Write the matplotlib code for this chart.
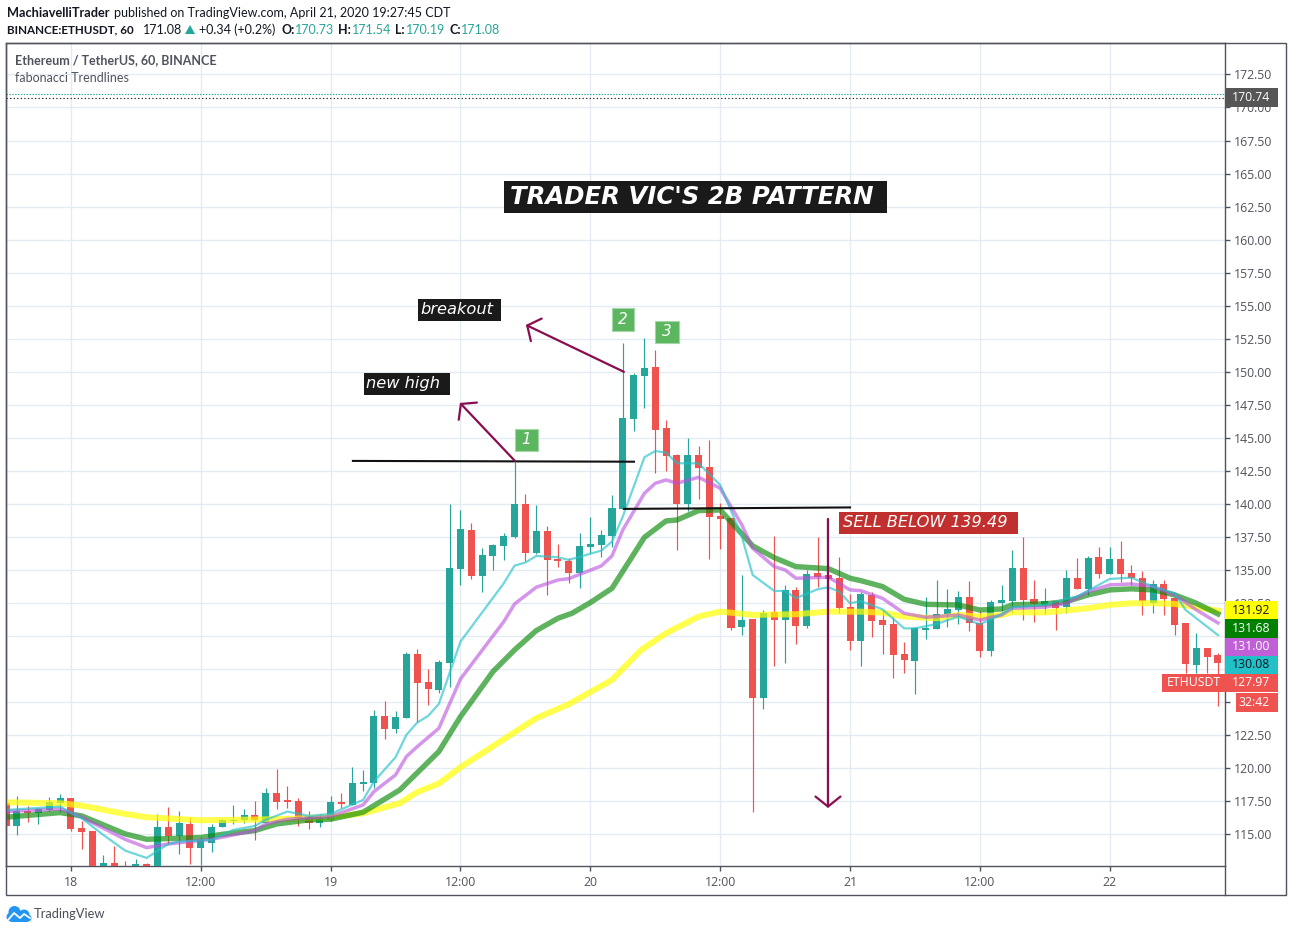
import matplotlib
matplotlib.use("Agg")
import matplotlib.pyplot as plt
from matplotlib.patches import Rectangle, Polygon, Circle

hours = list(range(-6, 107))
opens = [117.36,115.64,116.78,116.63,116.85,117.38,117.76,115.49,115.26,112.30,112.84,112.50,112.30,112.77,112.40,115.57,114.89,115.79,113.98,114.36,115.57,116.02,116.10,116.47,115.84,118.14,117.61,117.53,116.32,115.87,116.10,117.46,117.23,118.82,118.90,123.96,122.98,123.81,128.65,126.54,125.93,127.97,135.09,138.04,134.56,136.07,136.83,137.51,140.00,136.30,137.96,135.84,135.69,134.78,136.75,136.90,137.58,139.63,146.44,149.69,150.37,145.76,143.71,140.00,143.71,142.80,139.10,138.95,130.70,131.30,125.32,131.83,131.22,133.49,130.77,134.78,134.63,134.40,132.21,129.64,133.11,131.23,130.92,128.65,128.12,130.47,130.54,131.68,131.98,132.96,130.97,128.88,132.51,132.66,135.16,132.82,132.37,132.67,132.21,134.41,133.58,136.00,134.71,135.85,134.79,134.41,132.52,133.95,132.90,131.00,127.83,129.11,128.58]
highs = [117.50,117.91,117.16,117.03,117.86,118.06,117.76,116.02,115.26,113.45,114.13,112.99,113.15,112.84,116.55,117.08,116.78,116.32,114.81,115.79,116.15,117.23,116.93,117.53,118.52,119.96,118.67,117.76,116.78,116.55,117.91,118.14,120.11,119.88,124.42,125.10,124.34,128.81,129.03,127.52,128.20,140.00,139.55,138.57,136.68,136.98,137.81,143.20,140.76,139.93,138.34,136.98,135.92,137.81,139.02,138.04,140.69,152.19,149.92,152.54,151.66,146.36,143.79,145.00,144.39,144.85,140.08,138.95,134.63,131.30,131.98,137.58,133.87,133.72,135.01,137.50,134.90,135.99,133.19,133.34,133.34,131.98,131.45,129.56,130.69,132.96,134.25,133.57,133.42,134.17,131.90,132.74,133.87,136.52,137.51,134.26,133.65,132.67,135.01,135.92,136.07,136.75,136.75,137.21,135.39,134.94,134.26,134.26,132.90,131.00,130.25,129.11,128.73]
lows = [115.60,114.96,115.97,115.79,116.78,116.73,115.29,113.90,112.00,112.20,112.00,111.90,112.10,112.10,112.10,114.28,113.52,112.77,112.69,113.68,115.57,115.79,115.87,114.58,115.84,116.93,117.00,115.64,115.42,115.57,116.00,117.00,117.20,118.29,118.52,122.22,122.68,123.81,123.51,124.80,125.70,126.16,133.88,134.33,133.35,135.01,135.77,137.43,135.69,136.22,133.12,135.24,134.03,133.65,136.30,135.99,136.75,139.63,145.53,147.27,142.35,142.50,136.52,139.47,140.38,135.84,136.60,130.47,130.09,116.70,124.49,127.74,127.97,129.41,130.62,133.72,131.48,131.75,128.95,127.74,129.94,128.65,126.84,127.21,125.62,129.79,130.54,130.69,130.92,130.39,128.42,128.50,131.90,131.75,131.23,131.08,131.68,130.47,131.76,133.58,133.12,134.41,134.71,134.11,133.88,131.61,131.76,131.61,130.10,127.20,127.20,127.20,124.72]
closes = [115.64,116.78,116.63,116.93,117.46,117.76,115.42,115.19,112.30,112.84,112.20,112.10,112.77,112.30,115.57,114.89,115.87,113.98,114.60,115.57,116.10,116.10,116.47,116.10,118.14,117.46,117.46,116.22,115.87,116.25,117.46,117.31,118.90,118.97,123.96,122.98,123.89,128.65,126.46,126.01,128.05,135.16,138.11,134.56,136.15,136.90,137.58,140.00,136.30,137.96,135.77,135.69,134.78,136.83,136.98,137.66,139.70,146.51,149.77,150.29,145.60,143.64,140.00,143.71,142.73,139.02,138.87,130.62,131.23,125.32,131.75,131.22,133.49,130.77,134.70,134.48,134.33,132.13,129.64,133.19,131.15,130.85,128.58,128.20,130.62,130.62,131.68,132.06,132.96,131.00,128.88,132.59,132.74,135.16,132.74,132.44,132.67,132.14,134.41,133.58,135.92,134.71,135.85,134.71,134.41,132.67,133.95,132.82,130.85,127.90,129.11,128.43,127.97]

yellow_h = [-6,-1,1,5,7,12,15,20,24,27,30.4,32,34,36,41,43,46,50,52.7,55,58,60,63,67,70,73,75,77,80,82,84,86,87,90,94,96,98,100,102,104,106]
yellow_p = [117.43,117.36,117.18,116.55,116.30,116.07,116.10,116.17,116.30,116.60,117.36,118.20,118.85,120.08,122.73,123.79,124.85,126.69,128.96,130.22,131.48,131.86,131.61,131.66,131.86,131.85,131.78,131.48,131.35,131.60,131.48,131.60,131.81,131.79,132.11,132.37,132.49,132.49,132.44,132.19,131.92]
green_h = [-6,-1,1,5,7,12,14,17,19,22,24,27,30.4,34,36,39,41,43,45,46.3,48,50,53,55,56,58,60,63,65,67,70,72,73,75,77,79,82,84,86,87,90,92,94,96,98,100,102,104,106]
green_p = [116.30,116.65,116.40,115.04,114.63,114.76,115.01,115.29,115.79,116.10,116.15,116.68,118.37,121.27,123.91,127.32,128.96,130.42,131.35,131.73,132.54,133.62,137.48,138.72,138.79,139.50,139.55,136.83,135.94,135.26,135.11,134.38,134.20,133.75,132.79,132.41,132.36,131.98,132.06,132.37,132.44,132.62,133.12,133.50,133.58,133.50,133.12,132.49,131.68]
purple_h = [-6,-1,1,5,7,9,11,13,17,18,20,24,27,28,30,31,32,34,36,40,41,43,45,46,49,50,51,53,54,55,56,58,60,62,63,65,66,67,70,72,73,75,77,79,82,84,86,87,90,92,94,96,98,100,102,104,106]
purple_p = [116.73,116.93,116.30,114.63,114.00,114.28,114.46,114.63,115.29,115.79,116.15,116.35,117.23,118.24,119.50,120.89,121.64,123.03,126.76,131.10,132.44,133.70,134.25,134.35,135.31,136.07,138.04,140.81,141.57,141.82,141.57,142.02,141.19,138.42,136.65,135.26,135.01,134.38,134.46,133.50,133.44,132.86,131.73,131.43,131.60,131.22,131.60,132.11,132.19,132.49,133.37,133.88,133.95,133.75,133.12,131.99,131.00]
teal_h = [-6,-1,1,3,5,7,9,10,13,15,17,18,20,22,24,27,28,30,31,32,33,34,36,40,41,42,43,45,46,49,50,51,53,54,55,56,58,60,62,63,65,66,67,69,70,71,72,73,75,77,78,80,82,84,86,87,90,92,93,96,98,100,102,103,106]
teal_p = [116.85,117.11,116.22,114.96,113.78,113.22,114.28,114.46,114.58,115.34,115.64,116.10,116.73,116.40,116.55,117.61,119.00,120.84,122.53,123.46,123.96,124.87,129.59,134.00,135.34,135.57,136.07,135.97,135.77,136.47,137.15,139.05,143.54,144.01,143.89,143.08,143.08,141.44,137.53,134.63,133.42,133.42,132.87,133.55,133.70,133.37,132.49,132.66,132.03,130.59,130.59,130.92,131.48,130.90,131.65,132.18,132.37,132.82,133.00,134.33,134.43,133.75,133.25,131.99,130.08]

price_ticks = [115 + 2.5 * i for i in range(24)]
covered_ticks = {125.0, 127.5, 130.0}
time_ticks = [0, 12, 24, 36, 48, 60, 72, 84, 96]
time_labels = ["18", "12:00", "19", "12:00", "20", "12:00", "21", "12:00", "22"]

UP, DOWN = "#26a69a", "#ef5350"
GRID = "#e3ecf2"
INK = "#50535e"
FONT = "Lato"
AXIS_FONT = "Open Sans"
W, H = 1292, 932

fig = plt.figure(figsize=(W / 100, H / 100), dpi=100, facecolor="white")
L, R, T, B = 6, 1225, 43, 866
ax = fig.add_axes([L / W, 1 - B / H, (R - L) / W, (B - T) / H])
ax.set_xlim(-6.0, 106.65)
ax.set_ylim(112.61, 174.88)
ax.set_axisbelow(True)
ax.grid(True, color=GRID, lw=1)
ax.yaxis.tick_right()
ax.set_yticks(price_ticks, ["" if v in covered_ticks else f"{v:.2f}" for v in price_ticks])
ax.set_xticks(time_ticks, time_labels)
ax.tick_params(axis="both", length=3.5, width=1, color=INK, labelcolor=INK, labelsize=8.8, pad=4)
ax.tick_params(axis="y", pad=3.2)
for lab in ax.get_xticklabels() + ax.get_yticklabels():
    lab.set_fontfamily(AXIS_FONT)
for s in ax.spines.values():
    s.set_color(INK)
    s.set_linewidth(1)

for h, o, hi, lo, c in zip(hours, opens, highs, lows, closes):
    col = UP if c >= o else DOWN
    ax.vlines(h, lo, hi, color=col, lw=0.85, zorder=2)
    ax.bar(h, abs(c - o), bottom=min(o, c), width=0.65, color=col, lw=0, zorder=3)

ax.axhline(171.05, color=UP, lw=0.8, ls=(0, (1.3, 1.3)), zorder=2)
ax.axhline(170.74, color="#222222", lw=0.8, ls=(0, (1.2, 2)), zorder=2)

ax.plot(yellow_h, yellow_p, color="#ffff00", lw=4.3, alpha=0.7, zorder=4, solid_joinstyle="round")
ax.plot(green_h, green_p, color="#0a8a0a", lw=3.9, alpha=0.65, zorder=5)
ax.plot(purple_h, purple_p, color="#b84fdc", lw=2.5, alpha=0.6, zorder=6)
ax.plot(teal_h, teal_p, color="#22c1c8", lw=1.6, alpha=0.65, zorder=7)

ax.plot([26.06, 52.03], [143.26, 143.2], color="#111111", lw=1.5, zorder=8)
ax.plot([51.1, 72], [139.63, 139.74], color="#111111", lw=1.5, zorder=8)
ARROW = "#880e4f"
for tail, head in [((41.03, 143.26), (35.95, 147.65)),
                   ((51.1, 150.0), (42.05, 153.55)),
                   ((69.96, 138.87), (69.96, 117.0))]:
    ax.annotate("", xy=head, xytext=tail,
                arrowprops=dict(arrowstyle="->,head_length=0.4,head_width=0.5", color=ARROW,
                                lw=1.6, shrinkA=0, shrinkB=0, mutation_scale=18), zorder=9)

def tag(x0, x1, y0, y1, s, fc, size=11.7, weight="normal", text_x=None, ec="none"):
    ax.add_patch(Rectangle((x0, y0), x1 - x0, y1 - y0, fc=fc, ec=ec, lw=0.8, zorder=10))
    ax.text((x0 + x1) / 2 if text_x is None else text_x, (y0 + y1) / 2, s, color="white", fontsize=size,
            style="italic", weight=weight, ha="center" if text_x is None else "left", va="center", zorder=11)

tag(40.02, 75.42, 162.02, 164.44, "TRADER VIC'S 2B PATTERN", "#1a1a1a", size=17.6, weight="bold", text_x=40.57)
tag(27.08, 35.03, 148.25, 149.92, "new high", "#1a1a1a", text_x=27.26)
tag(32.07, 39.74, 153.85, 155.51, "breakout", "#1a1a1a", text_x=32.25)
tag(70.98, 87.52, 137.73, 139.40, "SELL BELOW 139.49", "#c0302e", text_x=71.35)
tag(41.03, 43.16, 144.01, 145.68, "1", "#5cb660", size=11, ec="#a5d6a7")
tag(50.00, 52.03, 153.09, 154.83, "2", "#5cb660", size=11, ec="#a5d6a7")
tag(53.97, 56.19, 152.18, 153.85, "3", "#5cb660", size=11, ec="#a5d6a7")

# page chrome in pixel coordinates
ov = fig.add_axes([0, 0, 1, 1], zorder=20)
ov.set_xlim(0, W)
ov.set_ylim(H, 0)
ov.axis("off")
ov.patch.set_alpha(0)
ov.add_patch(Rectangle((6, 43), 1279.5, 852, fc="none", ec=INK, lw=1))
ov.plot([R, R], [866, 895], color=INK, lw=1)

def t(x, y, s, color="#131722", weight="normal", size=9.0, ha="left"):
    return ov.text(x, y, s, color=color, fontsize=size, weight=weight, family=FONT, ha=ha, va="center")

t(6.7, 12.7, "MachiavelliTrader", weight="bold", size=9.2)
t(114, 12.7, "published on TradingView.com, April 21, 2020 19:27:45 CDT")
t(6.7, 29.5, "BINANCE:ETHUSDT, 60", weight="bold", size=8.4)
t(143, 29.5, "171.08")
ov.add_patch(Polygon([(185, 34), (195, 34), (190, 25)], fc=UP, ec="none"))
t(199, 29.5, "+0.34 (+0.2%)")
for xl, xv, lab, val in [(281, 295, "O:", "170.73"), (338, 352, "H:", "171.54"),
                         (395, 406, "L:", "170.19"), (449, 461, "C:", "171.08")]:
    t(xl, 29.5, lab, weight="bold")
    t(xv, 29.5, val, color=UP)
t(15, 60.5, "Ethereum / TetherUS, 60, BINANCE", color=INK, weight="bold")
t(15, 77.5, "fabonacci Trendlines", color=INK)

for y0, y1, x0, x1, fc, tc, s in [
    (88, 107, 1225, 1278, "#565656", "white", "170.74"),
    (601, 619, 1225, 1278, "#ffff00", "#131722", "131.92"),
    (619, 638, 1225, 1278, "#008000", "white", "131.68"),
    (638, 656, 1225, 1278, "#c05fd6", "white", "131.00"),
    (656, 674, 1225, 1278, "#22c1c8", "#131722", "130.08"),
    (674, 692, 1225, 1278, DOWN, "white", "127.97"),
    (693, 712, 1236, 1278, DOWN, "white", "32:42"),
    (674, 692, 1162, 1225, DOWN, "white", "ETHUSDT"),
]:
    ov.add_patch(Rectangle((x0, y0), x1 - x0, y1 - y0, fc=fc, ec="none"))
    ov.text(1270 if x0 >= 1225 else (x0 + x1) / 2, (y0 + y1) / 2, s, color=tc, fontsize=8.8, family=AXIS_FONT,
            ha="right" if x0 >= 1225 else "center", va="center")

# TradingView logo
BLUE = "#2196f3"
for cx, cy, r in [(11, 917, 4.5), (14.5, 912, 6), (24, 915, 5.5), (28, 918, 3.5)]:
    ov.add_patch(Circle((cx, cy), r, fc=BLUE, ec="none"))
ov.add_patch(Rectangle((11, 915), 17, 6.5, fc=BLUE, ec="none"))
ov.plot([8, 14, 20, 24, 30], [920, 913, 918, 914, 918], color="white", lw=1.3)
t(34, 913.5, "TradingView", color="#4a4e57", size=9.3)

fig.savefig("out.png", dpi=100)
